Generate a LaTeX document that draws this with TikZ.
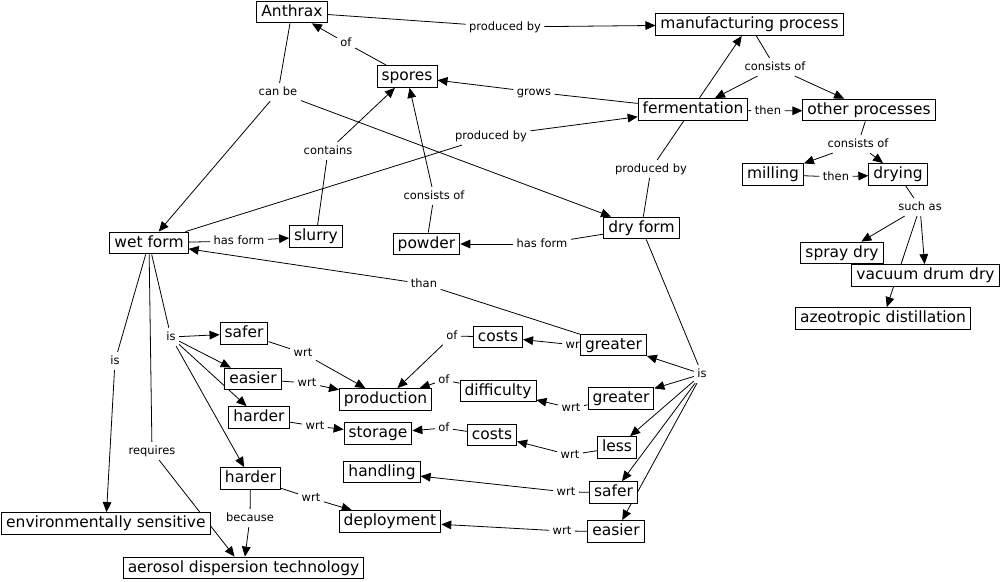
\documentclass[tikz,border=0pt]{standalone}
\usepackage{fontspec}
\setmainfont{DejaVu Sans}
\usetikzlibrary{arrows.meta}
\pgfdeclarelayer{bg}
\pgfsetlayers{bg,main}
\tikzset{
 concept/.style={draw, fill=white, line width=0.7pt, font=\fontsize{11.6}{13}\selectfont, inner xsep=3.4pt, inner ysep=2.6pt, text height=8.6pt, text depth=2.6pt},
 lbl/.style={font=\fontsize{8.6}{10}\selectfont, inner sep=2.5pt, text height=6.4pt, text depth=1.8pt},
 link/.style={line width=0.6pt},
 arr/.style={line width=0.6pt, -{Triangle[length=7.5pt,width=6.5pt]}},
}
\begin{document}
\begin{tikzpicture}[x=0.75pt,y=-0.75pt]
\useasboundingbox (0,0) rectangle (1001,582);
% linking phrases
\node[lbl] (pb1) at (505,27) {produced by};
\node[lbl] (of1) at (346,43) {of};
\node[lbl] (canbe) at (278,92) {can be};
\node[lbl] (grows) at (534,92) {grows};
\node[lbl] (pb2) at (491,136) {produced by};
\node[lbl] (contains) at (328,151) {contains};
\node[lbl] (cons1) at (434,196) {consists of};
\node[lbl] (pb3) at (651,169) {produced by};
\node[lbl] (cons2) at (775,67) {consists of};
\node[lbl] (then1) at (768,111) {then};
\node[lbl] (cons3) at (858,144) {consists of};
\node[lbl] (then2) at (836,177) {then};
\node[lbl] (suchas) at (920,207) {such as};
\node[lbl] (hasform1) at (239,241) {has form};
\node[lbl] (hasform2) at (542,244) {has form};
\node[lbl] (than) at (424,284) {than};
\node[lbl] (iswet) at (171,337) {is};
\node[lbl] (isenv) at (115,361) {is};
\node[lbl] (requires) at (152,451) {requires};
\node[lbl] (because) at (250,518) {because};
\node[lbl] (wrt1) at (303,353) {wrt};
\node[lbl] (wrt2) at (307,383) {wrt};
\node[lbl] (wrt3) at (315,426) {wrt};
\node[lbl] (wrt4) at (311,498) {wrt};
\node[lbl] (of2) at (452,336) {of};
\node[lbl] (of3) at (444,380) {of};
\node[lbl] (of4) at (444,428) {of};
\node[lbl] (wrt5) at (575,345) {wrt};
\node[lbl] (wrt6) at (571,408) {wrt};
\node[lbl] (wrt7) at (570,455) {wrt};
\node[lbl] (wrt8) at (566,492) {wrt};
\node[lbl] (wrt9) at (562,531) {wrt};
\node[lbl] (isdry) at (702,374) {is};
% concepts
\node[concept] (anthrax) at (292,12) {Anthrax};
\node[concept] (manuf) at (749.5,24.5) {manufacturing process};
\node[concept] (spores) at (407,76.5) {spores};
\node[concept] (ferm) at (693,109.5) {fermentation};
\node[concept] (other) at (869,110) {other processes};
\node[concept] (milling) at (773,174.5) {milling};
\node[concept] (drying) at (898,174.5) {drying};
\node[concept] (spray) at (842,253) {spray dry};
\node[concept] (vacuum) at (925.5,275.5) {vacuum drum dry};
\node[concept] (azeo) at (883,318.5) {azeotropic distillation};
\node[concept] (dry) at (641.5,228) {dry form};
\node[concept] (wet) at (149,243) {wet form};
\node[concept] (slurry) at (316,236.5) {slurry};
\node[concept] (powder) at (426.5,244) {powder};
\node[concept] (saferw) at (244,333.5) {safer};
\node[concept] (easierw) at (253,379) {easier};
\node[concept] (harder1) at (259,417.5) {harder};
\node[concept] (harder2) at (250.5,478.5) {harder};
\node[concept,anchor=west] (env) at (1.2,523.5) {environmentally sensitive};
\node[concept] (aerosol) at (243.5,568) {aerosol dispersion technology};
\node[concept] (production) at (385.5,399.5) {production};
\node[concept] (storage) at (378,433.5) {storage};
\node[concept] (handling) at (382,472) {handling};
\node[concept] (deployment) at (390,521.5) {deployment};
\node[concept] (costs1) at (498,337) {costs};
\node[concept] (difficulty) at (498,391) {difficulty};
\node[concept] (costs2) at (492,435) {costs};
\node[concept] (greater1) at (613.5,345) {greater};
\node[concept] (greater2) at (621,398.5) {greater};
\node[concept] (less) at (617,447.5) {less};
\node[concept] (saferd) at (613.5,492.5) {safer};
\node[concept] (easierd) at (616,531.5) {easier};
% connectors
\begin{pgfonlayer}{bg}
\draw[link] (anthrax) -- (pb1); \draw[arr] (pb1) -- (manuf);
\draw[link] (spores) -- (of1); \draw[arr] (of1) -- (anthrax);
\draw[link] (anthrax) -- (canbe); \draw[arr] (canbe) -- (wet); \draw[arr] (canbe) -- (dry);
\draw[link] (ferm) -- (grows); \draw[arr] (grows) -- (spores);
\draw[link] (wet) -- (pb2); \draw[arr] (pb2) -- (ferm);
\draw[link] (slurry) -- (contains); \draw[arr] (contains) -- (spores);
\draw[link] (powder) -- (cons1); \draw[arr] (cons1) -- (spores);
\draw[link] (dry) -- (pb3); \draw[arr] (pb3) -- (manuf);
\draw[link] (manuf) -- (cons2); \draw[arr] (cons2) -- (ferm); \draw[arr] (cons2) -- (other);
\draw[link] (ferm) -- (then1); \draw[arr] (then1) -- (other);
\draw[link] (other) -- (cons3); \draw[arr] (cons3) -- (milling); \draw[arr] (cons3) -- (drying);
\draw[link] (milling) -- (then2); \draw[arr] (then2) -- (drying);
\draw[link] (drying) -- (suchas); \draw[arr] (suchas) -- (spray); \draw[arr] (suchas) -- (vacuum); \draw[arr] (suchas) -- (azeo);
\draw[link] (wet) -- (hasform1); \draw[arr] (hasform1) -- (slurry);
\draw[link] (dry) -- (hasform2); \draw[arr] (hasform2) -- (powder);
\draw[link] (greater1) -- (than); \draw[arr] (than) -- (wet);
\draw[link] (greater1) -- (wrt5); \draw[arr] (wrt5) -- (costs1);
\draw[link] (costs1) -- (of2); \draw[arr] (of2) -- (production);
\draw[link] (dry) -- (isdry);
\draw[arr] (isdry) -- (greater1); \draw[arr] (isdry) -- (greater2); \draw[arr] (isdry) -- (less);
\draw[arr] (isdry) -- (saferd); \draw[arr] (isdry) -- (easierd);
\draw[link] (wet) -- (iswet);
\draw[arr] (iswet) -- (saferw); \draw[arr] (iswet) -- (easierw); \draw[arr] (iswet) -- (harder1); \draw[arr] (iswet) -- (harder2);
\draw[link] (wet) -- (isenv); \draw[arr] (isenv) -- (env);
\draw[link] (wet) -- (requires); \draw[arr] (requires) -- (aerosol);
\draw[link] (harder2) -- (because); \draw[arr] (because) -- (aerosol);
\draw[link] (saferw) -- (wrt1); \draw[arr] (wrt1) -- (production);
\draw[link] (easierw) -- (wrt2); \draw[arr] (wrt2) -- (production);
\draw[link] (harder1) -- (wrt3); \draw[arr] (wrt3) -- (storage);
\draw[link] (harder2) -- (wrt4); \draw[arr] (wrt4) -- (deployment);
\draw[link] (difficulty) -- (of3); \draw[arr] (of3) -- (production);
\draw[link] (costs2) -- (of4); \draw[arr] (of4) -- (storage);
\draw[link] (greater2) -- (wrt6); \draw[arr] (wrt6) -- (difficulty);
\draw[link] (less) -- (wrt7); \draw[arr] (wrt7) -- (costs2);
\draw[link] (saferd) -- (wrt8); \draw[arr] (wrt8) -- (handling);
\draw[link] (easierd) -- (wrt9); \draw[arr] (wrt9) -- (deployment);
\end{pgfonlayer}
\end{tikzpicture}
\end{document}
